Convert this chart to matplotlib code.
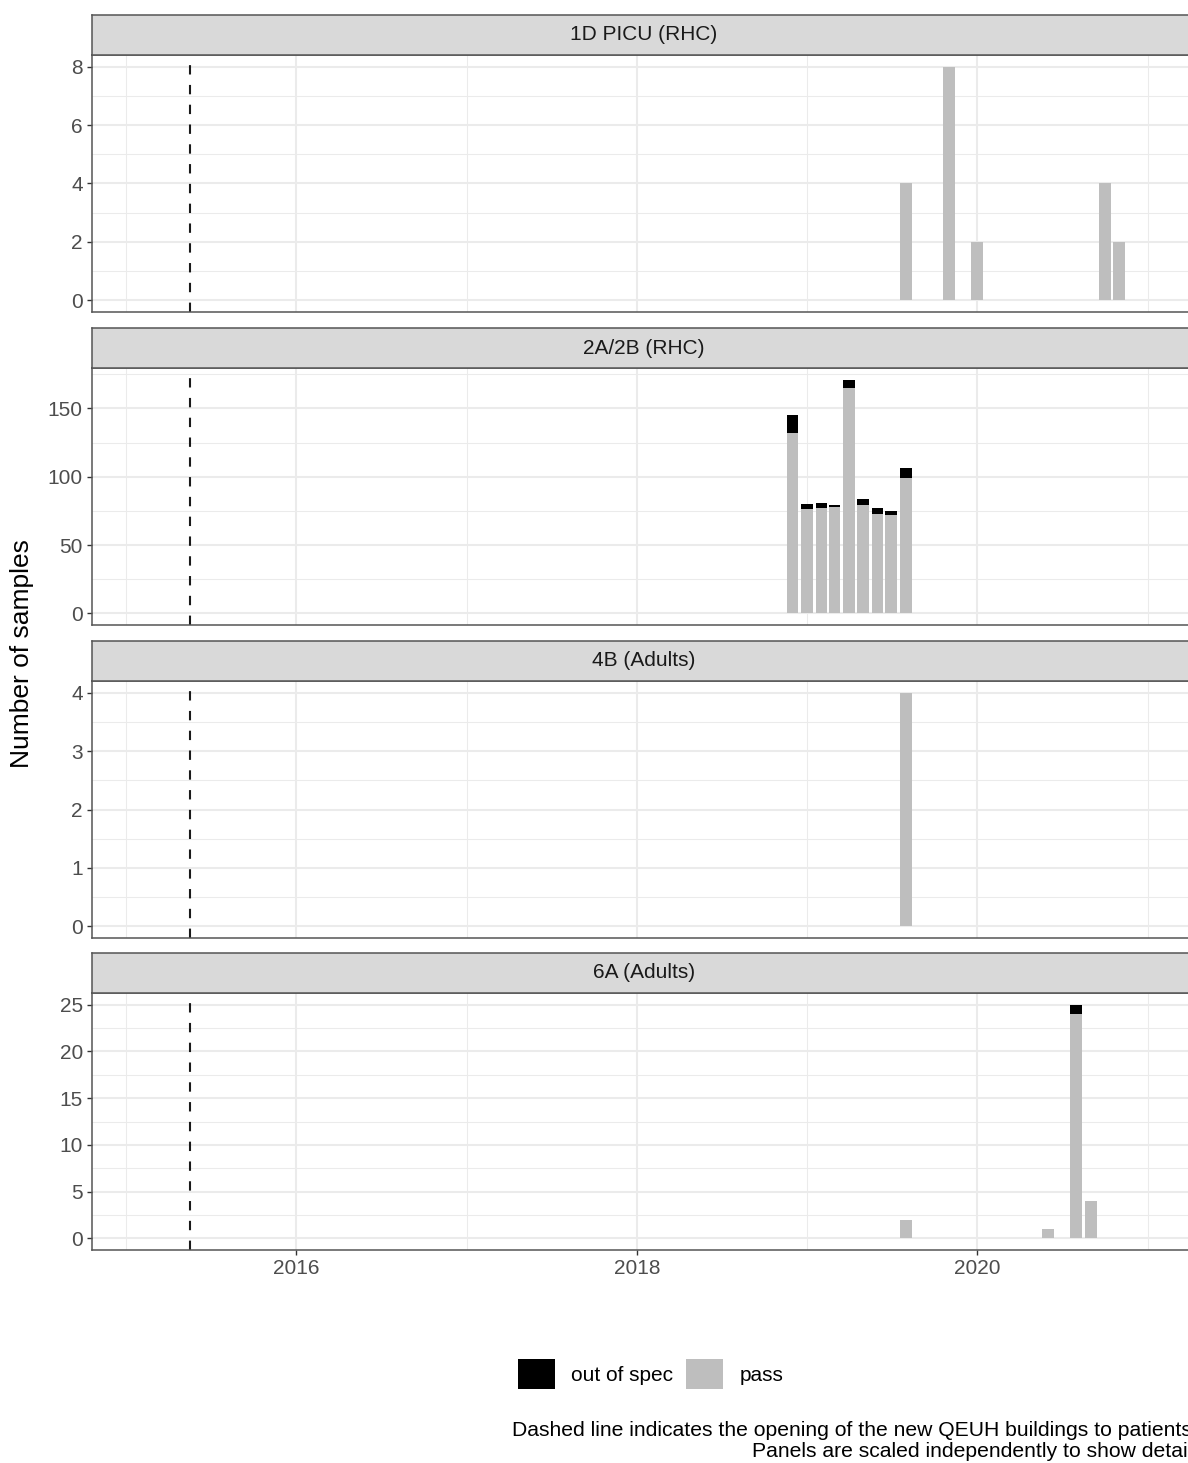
import pandas as pd
import matplotlib
matplotlib.use("Agg")
import matplotlib.pyplot as plt
import matplotlib.dates as mdates
from matplotlib.ticker import MultipleLocator, AutoMinorLocator
from matplotlib.patches import Patch

plt.rcParams["font.family"] = ["Liberation Sans", "DejaVu Sans"]

# data (monthly counts, pass stacked under out of spec)
wards = ["1D PICU (RHC)", "2A/2B (RHC)", "4B (Adults)", "6A (Adults)"]

picu_months = ["2019-08", "2019-11", "2020-01", "2020-10", "2020-11"]
picu_pass = [4, 8, 2, 4, 2]
picu_fail = [0, 0, 0, 0, 0]

w2ab_months = ["2018-12", "2019-01", "2019-02", "2019-03", "2019-04",
               "2019-05", "2019-06", "2019-07", "2019-08"]
w2ab_pass = [132, 76, 77, 78, 165, 79, 73, 72, 99]
w2ab_fail = [13, 4, 4, 1, 6, 5, 4, 3, 7]

w4b_months = ["2019-08"]
w4b_pass = [4]
w4b_fail = [0]

w6a_months = ["2019-08", "2020-06", "2020-08", "2020-09"]
w6a_pass = [2, 1, 24, 4]
w6a_fail = [0, 0, 1, 0]

y_steps = [2, 50, 1, 5]

opening_date = "2015-05-17"
x_limits = ["2014-10-19", "2021-04-15"]

panels = [
    (picu_months, picu_pass, picu_fail),
    (w2ab_months, w2ab_pass, w2ab_fail),
    (w4b_months, w4b_pass, w4b_fail),
    (w6a_months, w6a_pass, w6a_fail),
]

PASS_COL = "#BEBEBE"
FAIL_COL = "black"
GRID_COL = "#EBEBEB"
DARK = "#333333"

W, H = 1188, 1463
fig = plt.figure(figsize=(W / 100, H / 100), dpi=100)

left, right = 92, 1196
panel_tops = [55, 368, 681, 993]
panel_h = 257
strip_h = 40

for i, (months, passed, failed) in enumerate(panels):
    top = panel_tops[i]
    ax = fig.add_axes([left / W, 1 - (top + panel_h) / H, (right - left) / W, panel_h / H])
    sax = fig.add_axes([left / W, 1 - top / H, (right - left) / W, strip_h / H])

    x = mdates.date2num(pd.to_datetime([m + "-01" for m in months]))
    ax.bar(x, passed, width=25.2, color=PASS_COL, linewidth=0, zorder=2)
    ax.bar(x, failed, bottom=passed, width=25.2, color=FAIL_COL, linewidth=0, zorder=2)

    ax.axvline(mdates.date2num(pd.Timestamp(opening_date)), color="#1A1A1A",
               linestyle=(0, (4.5, 5)), linewidth=1.5, zorder=3)

    ymax = max(p + f for p, f in zip(passed, failed))
    ax.set_ylim(-0.05 * ymax, 1.05 * ymax)
    ax.yaxis.set_major_locator(MultipleLocator(y_steps[i]))
    ax.yaxis.set_minor_locator(AutoMinorLocator(2))

    ax.set_xlim(mdates.date2num(pd.Timestamp(x_limits[0])),
                mdates.date2num(pd.Timestamp(x_limits[1])))
    ax.xaxis.set_major_locator(mdates.YearLocator(2))
    ax.xaxis.set_minor_locator(mdates.YearLocator(1))
    ax.xaxis.set_major_formatter(mdates.DateFormatter("%Y"))

    ax.set_axisbelow(True)
    ax.grid(which="major", color=GRID_COL, linewidth=1.5)
    ax.grid(which="minor", color=GRID_COL, linewidth=0.75)

    ax.tick_params(which="major", length=3.6, width=1.0, color=DARK,
                   labelcolor="#4D4D4D", labelsize=15, pad=3)
    ax.tick_params(which="minor", length=0)
    if i < 3:
        ax.tick_params(axis="x", which="both", length=0, labelbottom=False)

    for s in ax.spines.values():
        s.set_color("#555555")
        s.set_linewidth(1.1)
        s.set_zorder(4)

    sax.set_facecolor("#D9D9D9")
    sax.set_xticks([])
    sax.set_yticks([])
    for s in sax.spines.values():
        s.set_color("#555555")
        s.set_linewidth(1.1)
    sax.text(0.5, 0.5, wards[i], transform=sax.transAxes, ha="center", va="center",
             fontsize=15, color="#1A1A1A")

fig.text(22 / W, 1 - 654 / H, "Number of samples", rotation=90, ha="center",
         va="center", fontsize=19, color="black")

handles = [Patch(facecolor=FAIL_COL, label="out of spec"),
           Patch(facecolor=PASS_COL, label="pass")]
fig.legend(handles=handles, loc="center", bbox_to_anchor=(650.5 / W, 1 - 1374 / H),
           ncol=2, frameon=False, fontsize=15, handlelength=1.78, handleheight=1.87,
           handletextpad=0.77, columnspacing=0.63)

fig.text(1192 / W, 1 - 1441 / H,
         "Dashed line indicates the opening of the new QEUH buildings to patients\n"
         "Panels are scaled independently to show detail",
         ha="right", va="center", multialignment="right", fontsize=15.2,
         linespacing=1.1, color="black")

fig.savefig("out.png", dpi=100)
